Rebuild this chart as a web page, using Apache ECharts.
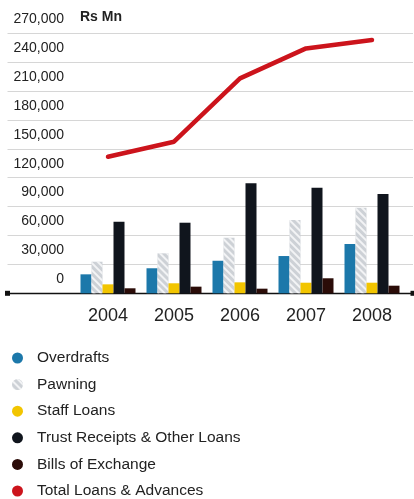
<!DOCTYPE html>
<html>
<head>
<meta charset="utf-8">
<title>Loans & Advances</title>
<script src="https://cdn.jsdelivr.net/npm/echarts@6/dist/echarts.min.js"></script>
<style>
  html, body { margin: 0; padding: 0; background: #ffffff; }
  #chart { width: 414px; height: 499px; }
</style>
</head>
<body>
<div id="chart"></div>
<script>
// Loan portfolio by product, Rs Mn
const years = ['2004', '2005', '2006', '2007', '2008'];
const overdrafts = [19700, 26000, 33800, 38700, 51200];
const pawning = [32800, 41500, 57700, 76100, 88900];
const staffLoans = [9300, 10400, 11400, 11000, 11000];
const trustReceipts = [74300, 73300, 114200, 109600, 103100];
const billsOfExchange = [5200, 6900, 4800, 15600, 7900];
const totalLoans = [141800, 157400, 223200, 254300, 263000];

const yMax = 270000;
const yStep = 30000;
const unitLabel = 'Rs Mn';

const font = 'Liberation Sans, Arial, sans-serif';
const gridTop = 33.3;
const gridBottom = 205.7;

const chart = echarts.init(document.getElementById('chart'), null, { renderer: 'canvas' });

function barSeries(name, data, color, extra) {
  return Object.assign({
    name: name,
    type: 'bar',
    xAxisIndex: 0,
    yAxisIndex: 0,
    data: data,
    barWidth: 11,
    barGap: '0%',
    itemStyle: { color: color },
    z: 3
  }, extra || {});
}

chart.setOption({
  animation: false,
  backgroundColor: '#ffffff',
  title: {
    text: unitLabel,
    left: 80,
    top: 10,
    padding: 0,
    textStyle: {
      fontFamily: font,
      fontWeight: 'bold',
      fontSize: 14,
      color: '#222222'
    }
  },
  legend: {
    orient: 'vertical',
    left: 7,
    top: 345,
    height: 170,
    icon: 'circle',
    itemWidth: 11,
    itemHeight: 11,
    itemGap: 10.6,
    selectedMode: false,
    textStyle: {
      fontFamily: font,
      fontSize: 15.5,
      lineHeight: 16,
      color: '#222222',
      padding: [0, 0, 0, 9]
    },
    data: ['Overdrafts', 'Pawning', 'Staff Loans', 'Trust Receipts & Other Loans', 'Bills of Exchange', 'Total Loans & Advances']
  },
  grid: [
    // plotting area for the bars and the line
    { left: 75, right: 9, top: gridTop, bottom: gridBottom },
    // full-width frame carrying the scale labels, grid lines and base line
    { left: 7.5, right: 1, top: gridTop, bottom: gridBottom }
  ],
  xAxis: [
    {
      type: 'category',
      gridIndex: 0,
      data: years,
      boundaryGap: true,
      axisLine: { show: false },
      axisTick: { show: false },
      axisLabel: {
        margin: 14,
        fontFamily: font,
        fontSize: 18,
        color: '#222222'
      },
      splitLine: { show: false }
    },
    {
      type: 'value',
      gridIndex: 1,
      min: 0,
      max: 1,
      axisLine: {
        show: true,
        symbol: ['rect', 'rect'],
        symbolSize: [5, 5],
        lineStyle: { color: '#111111', width: 1.3 }
      },
      axisTick: { show: false },
      axisLabel: { show: false },
      splitLine: { show: false }
    }
  ],
  yAxis: [
    {
      type: 'value',
      gridIndex: 0,
      min: 0,
      max: yMax,
      interval: yStep,
      show: false
    },
    {
      type: 'value',
      gridIndex: 1,
      min: 0,
      max: yMax,
      interval: yStep,
      axisLine: { show: false },
      axisTick: { show: false },
      axisLabel: {
        inside: true,
        align: 'right',
        verticalAlign: 'bottom',
        margin: 56.5,
        lineHeight: 14,
        padding: [0, 0, 7, 0],
        fontFamily: font,
        fontSize: 14,
        color: '#222222',
        formatter: function (v) { return v.toLocaleString('en-US'); }
      },
      splitLine: {
        show: true,
        lineStyle: { color: '#d6d6d6', width: 1 }
      }
    }
  ],
  series: [
    barSeries('Overdrafts', overdrafts, '#1c78aa'),
    barSeries('Pawning', pawning, '#cdd1d6', {
      itemStyle: {
        color: '#cdd1d6',
        decal: {
          symbol: 'rect',
          symbolSize: 1,
          color: 'rgba(255,255,255,0.75)',
          dashArrayX: [1, 0],
          dashArrayY: [2, 3],
          rotation: Math.PI / 4
        }
      }
    }),
    barSeries('Staff Loans', staffLoans, '#f2c500'),
    barSeries('Trust Receipts & Other Loans', trustReceipts, '#10151d'),
    barSeries('Bills of Exchange', billsOfExchange, '#2b0c08'),
    {
      name: 'Total Loans & Advances',
      type: 'line',
      xAxisIndex: 0,
      yAxisIndex: 0,
      data: totalLoans,
      symbol: 'none',
      lineStyle: { color: '#cc141c', width: 4.5, cap: 'round', join: 'round' },
      itemStyle: { color: '#cc141c' },
      z: 4
    }
  ]
});
</script>
</body>
</html>
